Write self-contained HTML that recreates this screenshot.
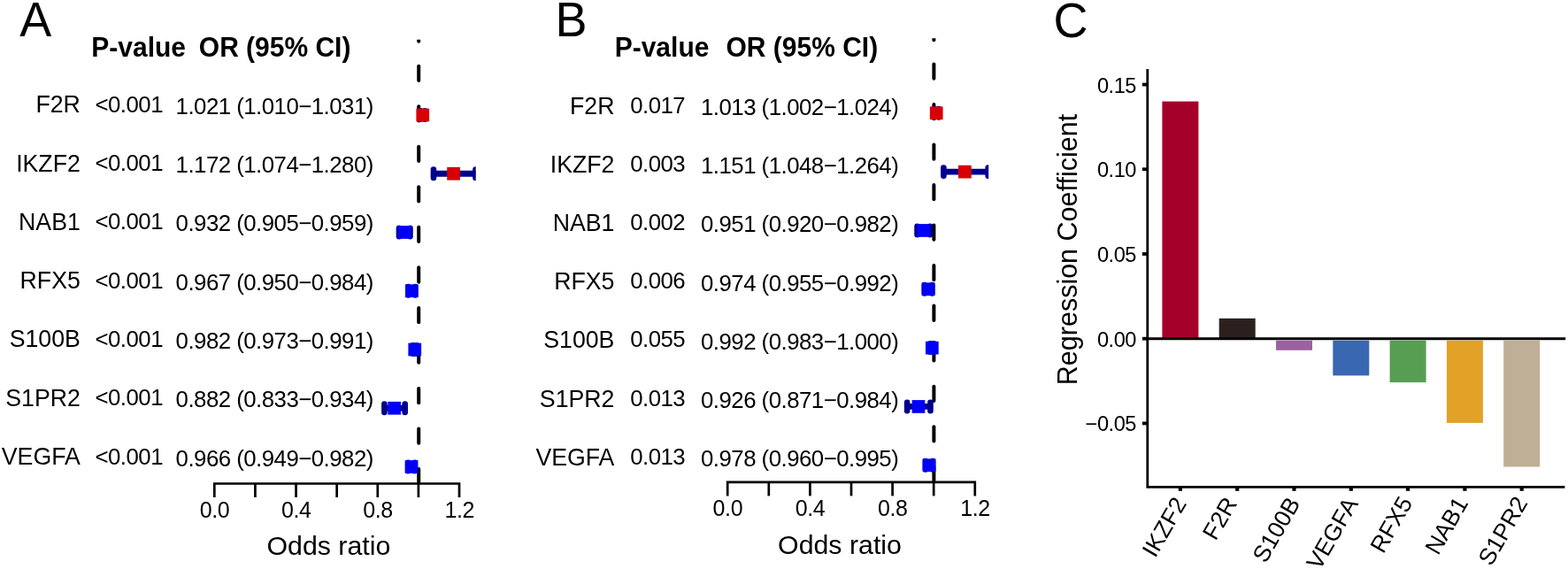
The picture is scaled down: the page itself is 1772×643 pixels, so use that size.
<!DOCTYPE html>
<html><head><meta charset="utf-8"><title>Forest plots and regression coefficients</title>
<style>html,body{margin:0;padding:0;background:#fff;}svg{display:block;}text{font-family:"Liberation Sans", Arial, Helvetica, sans-serif;fill:#000;}</style>
</head><body>
<svg width="1772" height="643" viewBox="0 0 1772 643">
<defs><clipPath id="clipA"><rect x="0" y="44.8" width="1772" height="643"/></clipPath><clipPath id="clipciA"><rect x="0" y="0" width="537.7" height="643"/></clipPath><clipPath id="clipB"><rect x="0" y="43.2" width="1772" height="643"/></clipPath><clipPath id="clipciB"><rect x="0" y="0" width="1117.2" height="643"/></clipPath></defs>
<rect width="1772" height="643" fill="#fff"/>
<text transform="translate(22.20,40.80) scale(1,1.025)" font-size="54" text-anchor="start" font-weight="normal" >A</text>
<text transform="translate(103.30,64.40) scale(1,1.05)" font-size="30" text-anchor="start" font-weight="bold" >P-value</text>
<text transform="translate(224.80,64.40) scale(1,1.05)" font-size="30" text-anchor="start" font-weight="bold" >OR (95% CI)</text>
<text transform="translate(90.80,127.20) scale(1,1.05)" font-size="26.7" text-anchor="end" font-weight="normal" >F2R</text>
<text x="107.50" y="126.80" font-size="25.8" text-anchor="start" font-weight="normal" letter-spacing="-0.52">&lt;0.001</text>
<text x="198.60" y="128.80" font-size="25.8" text-anchor="start" font-weight="normal" letter-spacing="-0.52">1.021 (1.010−1.031)</text>
<text transform="translate(90.80,193.50) scale(1,1.05)" font-size="26.7" text-anchor="end" font-weight="normal" >IKZF2</text>
<text x="107.50" y="193.10" font-size="25.8" text-anchor="start" font-weight="normal" letter-spacing="-0.52">&lt;0.001</text>
<text x="198.60" y="195.10" font-size="25.8" text-anchor="start" font-weight="normal" letter-spacing="-0.52">1.172 (1.074−1.280)</text>
<text transform="translate(90.80,259.80) scale(1,1.05)" font-size="26.7" text-anchor="end" font-weight="normal" >NAB1</text>
<text x="107.50" y="259.40" font-size="25.8" text-anchor="start" font-weight="normal" letter-spacing="-0.52">&lt;0.001</text>
<text x="198.60" y="261.40" font-size="25.8" text-anchor="start" font-weight="normal" letter-spacing="-0.52">0.932 (0.905−0.959)</text>
<text transform="translate(90.80,326.10) scale(1,1.05)" font-size="26.7" text-anchor="end" font-weight="normal" >RFX5</text>
<text x="107.50" y="325.70" font-size="25.8" text-anchor="start" font-weight="normal" letter-spacing="-0.52">&lt;0.001</text>
<text x="198.60" y="327.70" font-size="25.8" text-anchor="start" font-weight="normal" letter-spacing="-0.52">0.967 (0.950−0.984)</text>
<text transform="translate(90.80,392.40) scale(1,1.05)" font-size="26.7" text-anchor="end" font-weight="normal" >S100B</text>
<text x="107.50" y="392.00" font-size="25.8" text-anchor="start" font-weight="normal" letter-spacing="-0.52">&lt;0.001</text>
<text x="198.60" y="394.00" font-size="25.8" text-anchor="start" font-weight="normal" letter-spacing="-0.52">0.982 (0.973−0.991)</text>
<text transform="translate(90.80,458.70) scale(1,1.05)" font-size="26.7" text-anchor="end" font-weight="normal" >S1PR2</text>
<text x="107.50" y="458.30" font-size="25.8" text-anchor="start" font-weight="normal" letter-spacing="-0.52">&lt;0.001</text>
<text x="198.60" y="460.30" font-size="25.8" text-anchor="start" font-weight="normal" letter-spacing="-0.52">0.882 (0.833−0.934)</text>
<text transform="translate(90.80,525.00) scale(1,1.05)" font-size="26.7" text-anchor="end" font-weight="normal" >VEGFA</text>
<text x="107.50" y="524.60" font-size="25.8" text-anchor="start" font-weight="normal" letter-spacing="-0.52">&lt;0.001</text>
<text x="198.60" y="526.60" font-size="25.8" text-anchor="start" font-weight="normal" letter-spacing="-0.52">0.966 (0.949−0.982)</text>
<g clip-path="url(#clipA)">
<line x1="473.20" y1="46.80" x2="473.20" y2="45.47" stroke="#000" stroke-width="4.0" stroke-linecap="round"/>
<line x1="473.20" y1="74.70" x2="473.20" y2="91.00" stroke="#000" stroke-width="4.0" stroke-linecap="round"/>
<line x1="473.20" y1="120.23" x2="473.20" y2="136.53" stroke="#000" stroke-width="4.0" stroke-linecap="round"/>
<line x1="473.20" y1="165.76" x2="473.20" y2="182.06" stroke="#000" stroke-width="4.0" stroke-linecap="round"/>
<line x1="473.20" y1="211.29" x2="473.20" y2="227.59" stroke="#000" stroke-width="4.0" stroke-linecap="round"/>
<line x1="473.20" y1="256.82" x2="473.20" y2="273.12" stroke="#000" stroke-width="4.0" stroke-linecap="round"/>
<line x1="473.20" y1="302.35" x2="473.20" y2="318.65" stroke="#000" stroke-width="4.0" stroke-linecap="round"/>
<line x1="473.20" y1="347.88" x2="473.20" y2="364.18" stroke="#000" stroke-width="4.0" stroke-linecap="round"/>
<line x1="473.20" y1="393.41" x2="473.20" y2="409.71" stroke="#000" stroke-width="4.0" stroke-linecap="round"/>
<line x1="473.20" y1="438.94" x2="473.20" y2="455.24" stroke="#000" stroke-width="4.0" stroke-linecap="round"/>
<line x1="473.20" y1="484.47" x2="473.20" y2="500.77" stroke="#000" stroke-width="4.0" stroke-linecap="round"/>
<line x1="473.20" y1="530.00" x2="473.20" y2="544.50" stroke="#000" stroke-width="4.0" stroke-linecap="round"/>
</g>
<g clip-path="url(#clipciA)">
<line x1="475.21" y1="130.00" x2="480.05" y2="130.00" stroke="#00008B" stroke-width="6.8"/>
<line x1="475.21" y1="125.30" x2="475.21" y2="134.70" stroke="#00008B" stroke-width="6.6" stroke-linecap="round"/>
<line x1="480.05" y1="125.30" x2="480.05" y2="134.70" stroke="#00008B" stroke-width="6.6" stroke-linecap="round"/>
<rect x="470.39" y="122.65" width="14.7" height="14.7" fill="#D90000"/>
<line x1="489.96" y1="196.25" x2="537.47" y2="196.25" stroke="#00008B" stroke-width="6.8"/>
<line x1="489.96" y1="191.55" x2="489.96" y2="200.95" stroke="#00008B" stroke-width="6.6" stroke-linecap="round"/>
<line x1="537.47" y1="191.55" x2="537.47" y2="200.95" stroke="#00008B" stroke-width="6.6" stroke-linecap="round"/>
<rect x="505.21" y="188.90" width="14.7" height="14.7" fill="#D90000"/>
<line x1="450.99" y1="262.50" x2="463.45" y2="262.50" stroke="#00008B" stroke-width="6.8"/>
<line x1="450.99" y1="257.80" x2="450.99" y2="267.20" stroke="#00008B" stroke-width="6.6" stroke-linecap="round"/>
<line x1="463.45" y1="257.80" x2="463.45" y2="267.20" stroke="#00008B" stroke-width="6.6" stroke-linecap="round"/>
<rect x="449.87" y="255.15" width="14.7" height="14.7" fill="#0000F8"/>
<line x1="461.37" y1="328.75" x2="469.21" y2="328.75" stroke="#00008B" stroke-width="6.8"/>
<line x1="461.37" y1="324.05" x2="461.37" y2="333.45" stroke="#00008B" stroke-width="6.6" stroke-linecap="round"/>
<line x1="469.21" y1="324.05" x2="469.21" y2="333.45" stroke="#00008B" stroke-width="6.6" stroke-linecap="round"/>
<rect x="457.94" y="321.40" width="14.7" height="14.7" fill="#0000F8"/>
<line x1="466.67" y1="395.00" x2="470.82" y2="395.00" stroke="#00008B" stroke-width="6.8"/>
<line x1="466.67" y1="390.30" x2="466.67" y2="399.70" stroke="#00008B" stroke-width="6.6" stroke-linecap="round"/>
<line x1="470.82" y1="390.30" x2="470.82" y2="399.70" stroke="#00008B" stroke-width="6.6" stroke-linecap="round"/>
<rect x="461.40" y="387.65" width="14.7" height="14.7" fill="#0000F8"/>
<line x1="434.39" y1="461.25" x2="457.68" y2="461.25" stroke="#00008B" stroke-width="6.8"/>
<line x1="434.39" y1="456.55" x2="434.39" y2="465.95" stroke="#00008B" stroke-width="6.6" stroke-linecap="round"/>
<line x1="457.68" y1="456.55" x2="457.68" y2="465.95" stroke="#00008B" stroke-width="6.6" stroke-linecap="round"/>
<rect x="438.34" y="453.90" width="14.7" height="14.7" fill="#0000F8"/>
<line x1="461.14" y1="527.50" x2="468.75" y2="527.50" stroke="#00008B" stroke-width="6.8"/>
<line x1="461.14" y1="522.80" x2="461.14" y2="532.20" stroke="#00008B" stroke-width="6.6" stroke-linecap="round"/>
<line x1="468.75" y1="522.80" x2="468.75" y2="532.20" stroke="#00008B" stroke-width="6.6" stroke-linecap="round"/>
<rect x="457.71" y="520.15" width="14.7" height="14.7" fill="#0000F8"/>
</g>
<path d="M242.30,562.00 L242.30,546.50 L519.02,546.50 L519.02,562.00" fill="none" stroke="#000" stroke-width="2.7" stroke-linejoin="miter"/>
<line x1="288.42" y1="546.50" x2="288.42" y2="562.00" stroke="#000" stroke-width="2.7"/>
<line x1="334.54" y1="546.50" x2="334.54" y2="562.00" stroke="#000" stroke-width="2.7"/>
<line x1="380.66" y1="546.50" x2="380.66" y2="562.00" stroke="#000" stroke-width="2.7"/>
<line x1="426.78" y1="546.50" x2="426.78" y2="562.00" stroke="#000" stroke-width="2.7"/>
<line x1="472.90" y1="546.50" x2="472.90" y2="562.00" stroke="#000" stroke-width="2.7"/>
<text x="242.30" y="584.60" font-size="25.0" text-anchor="middle" font-weight="normal" letter-spacing="-0.4" dx="0.2">0.0</text>
<text x="334.54" y="584.60" font-size="25.0" text-anchor="middle" font-weight="normal" letter-spacing="-0.4" dx="0.2">0.4</text>
<text x="426.78" y="584.60" font-size="25.0" text-anchor="middle" font-weight="normal" letter-spacing="-0.4" dx="0.2">0.8</text>
<text x="519.02" y="584.60" font-size="25.0" text-anchor="middle" font-weight="normal" letter-spacing="-0.4" dx="0.2">1.2</text>
<text x="371.40" y="626.60" font-size="30.3" text-anchor="middle" font-weight="normal" >Odds ratio</text>
<text transform="translate(627.50,41.00) scale(1,1.025)" font-size="54" text-anchor="start" font-weight="normal" >B</text>
<text transform="translate(694.70,64.40) scale(1,1.05)" font-size="30" text-anchor="start" font-weight="bold" >P-value</text>
<text transform="translate(820.50,64.40) scale(1,1.05)" font-size="30" text-anchor="start" font-weight="bold" >OR (95% CI)</text>
<text transform="translate(694.40,128.60) scale(1,1.05)" font-size="26.7" text-anchor="end" font-weight="normal" >F2R</text>
<text x="712.20" y="127.60" font-size="25.8" text-anchor="start" font-weight="normal" letter-spacing="-0.52">0.017</text>
<text x="792.00" y="129.90" font-size="25.8" text-anchor="start" font-weight="normal" letter-spacing="-0.52">1.013 (1.002−1.024)</text>
<text transform="translate(694.40,194.80) scale(1,1.05)" font-size="26.7" text-anchor="end" font-weight="normal" >IKZF2</text>
<text x="712.20" y="193.80" font-size="25.8" text-anchor="start" font-weight="normal" letter-spacing="-0.52">0.003</text>
<text x="792.00" y="196.10" font-size="25.8" text-anchor="start" font-weight="normal" letter-spacing="-0.52">1.151 (1.048−1.264)</text>
<text transform="translate(694.40,261.00) scale(1,1.05)" font-size="26.7" text-anchor="end" font-weight="normal" >NAB1</text>
<text x="712.20" y="260.00" font-size="25.8" text-anchor="start" font-weight="normal" letter-spacing="-0.52">0.002</text>
<text x="792.00" y="262.30" font-size="25.8" text-anchor="start" font-weight="normal" letter-spacing="-0.52">0.951 (0.920−0.982)</text>
<text transform="translate(694.40,327.20) scale(1,1.05)" font-size="26.7" text-anchor="end" font-weight="normal" >RFX5</text>
<text x="712.20" y="326.20" font-size="25.8" text-anchor="start" font-weight="normal" letter-spacing="-0.52">0.006</text>
<text x="792.00" y="328.50" font-size="25.8" text-anchor="start" font-weight="normal" letter-spacing="-0.52">0.974 (0.955−0.992)</text>
<text transform="translate(694.40,393.40) scale(1,1.05)" font-size="26.7" text-anchor="end" font-weight="normal" >S100B</text>
<text x="712.20" y="392.40" font-size="25.8" text-anchor="start" font-weight="normal" letter-spacing="-0.52">0.055</text>
<text x="792.00" y="394.70" font-size="25.8" text-anchor="start" font-weight="normal" letter-spacing="-0.52">0.992 (0.983−1.000)</text>
<text transform="translate(694.40,459.60) scale(1,1.05)" font-size="26.7" text-anchor="end" font-weight="normal" >S1PR2</text>
<text x="712.20" y="458.60" font-size="25.8" text-anchor="start" font-weight="normal" letter-spacing="-0.52">0.013</text>
<text x="792.00" y="460.90" font-size="25.8" text-anchor="start" font-weight="normal" letter-spacing="-0.52">0.926 (0.871−0.984)</text>
<text transform="translate(694.40,525.80) scale(1,1.05)" font-size="26.7" text-anchor="end" font-weight="normal" >VEGFA</text>
<text x="712.20" y="524.80" font-size="25.8" text-anchor="start" font-weight="normal" letter-spacing="-0.52">0.013</text>
<text x="792.00" y="527.10" font-size="25.8" text-anchor="start" font-weight="normal" letter-spacing="-0.52">0.978 (0.960−0.995)</text>
<g clip-path="url(#clipB)">
<line x1="1055.40" y1="45.20" x2="1055.40" y2="43.17" stroke="#000" stroke-width="4.0" stroke-linecap="round"/>
<line x1="1055.40" y1="72.40" x2="1055.40" y2="88.70" stroke="#000" stroke-width="4.0" stroke-linecap="round"/>
<line x1="1055.40" y1="117.93" x2="1055.40" y2="134.23" stroke="#000" stroke-width="4.0" stroke-linecap="round"/>
<line x1="1055.40" y1="163.46" x2="1055.40" y2="179.76" stroke="#000" stroke-width="4.0" stroke-linecap="round"/>
<line x1="1055.40" y1="208.99" x2="1055.40" y2="225.29" stroke="#000" stroke-width="4.0" stroke-linecap="round"/>
<line x1="1055.40" y1="254.52" x2="1055.40" y2="270.82" stroke="#000" stroke-width="4.0" stroke-linecap="round"/>
<line x1="1055.40" y1="300.05" x2="1055.40" y2="316.35" stroke="#000" stroke-width="4.0" stroke-linecap="round"/>
<line x1="1055.40" y1="345.58" x2="1055.40" y2="361.88" stroke="#000" stroke-width="4.0" stroke-linecap="round"/>
<line x1="1055.40" y1="391.11" x2="1055.40" y2="407.41" stroke="#000" stroke-width="4.0" stroke-linecap="round"/>
<line x1="1055.40" y1="436.64" x2="1055.40" y2="452.94" stroke="#000" stroke-width="4.0" stroke-linecap="round"/>
<line x1="1055.40" y1="482.17" x2="1055.40" y2="498.47" stroke="#000" stroke-width="4.0" stroke-linecap="round"/>
<line x1="1055.40" y1="527.70" x2="1055.40" y2="542.90" stroke="#000" stroke-width="4.0" stroke-linecap="round"/>
</g>
<g clip-path="url(#clipciB)">
<line x1="1055.67" y1="127.80" x2="1060.79" y2="127.80" stroke="#00008B" stroke-width="6.8"/>
<line x1="1055.67" y1="123.10" x2="1055.67" y2="132.50" stroke="#00008B" stroke-width="6.6" stroke-linecap="round"/>
<line x1="1060.79" y1="123.10" x2="1060.79" y2="132.50" stroke="#00008B" stroke-width="6.6" stroke-linecap="round"/>
<rect x="1050.88" y="120.45" width="14.7" height="14.7" fill="#D90000"/>
<line x1="1066.38" y1="194.13" x2="1116.71" y2="194.13" stroke="#00008B" stroke-width="6.8"/>
<line x1="1066.38" y1="189.43" x2="1066.38" y2="198.83" stroke="#00008B" stroke-width="6.6" stroke-linecap="round"/>
<line x1="1116.71" y1="189.43" x2="1116.71" y2="198.83" stroke="#00008B" stroke-width="6.6" stroke-linecap="round"/>
<rect x="1083.03" y="186.78" width="14.7" height="14.7" fill="#D90000"/>
<line x1="1036.56" y1="260.46" x2="1051.01" y2="260.46" stroke="#00008B" stroke-width="6.8"/>
<line x1="1036.56" y1="255.76" x2="1036.56" y2="265.16" stroke="#00008B" stroke-width="6.6" stroke-linecap="round"/>
<line x1="1051.01" y1="255.76" x2="1051.01" y2="265.16" stroke="#00008B" stroke-width="6.6" stroke-linecap="round"/>
<rect x="1036.43" y="253.11" width="14.7" height="14.7" fill="#0000F8"/>
<line x1="1044.72" y1="326.79" x2="1053.34" y2="326.79" stroke="#00008B" stroke-width="6.8"/>
<line x1="1044.72" y1="322.09" x2="1044.72" y2="331.49" stroke="#00008B" stroke-width="6.6" stroke-linecap="round"/>
<line x1="1053.34" y1="322.09" x2="1053.34" y2="331.49" stroke="#00008B" stroke-width="6.6" stroke-linecap="round"/>
<rect x="1041.79" y="319.44" width="14.7" height="14.7" fill="#0000F8"/>
<line x1="1051.24" y1="393.12" x2="1055.20" y2="393.12" stroke="#00008B" stroke-width="6.8"/>
<line x1="1051.24" y1="388.42" x2="1051.24" y2="397.82" stroke="#00008B" stroke-width="6.6" stroke-linecap="round"/>
<line x1="1055.20" y1="388.42" x2="1055.20" y2="397.82" stroke="#00008B" stroke-width="6.6" stroke-linecap="round"/>
<rect x="1045.99" y="385.77" width="14.7" height="14.7" fill="#0000F8"/>
<line x1="1025.14" y1="459.45" x2="1051.47" y2="459.45" stroke="#00008B" stroke-width="6.8"/>
<line x1="1025.14" y1="454.75" x2="1025.14" y2="464.15" stroke="#00008B" stroke-width="6.6" stroke-linecap="round"/>
<line x1="1051.47" y1="454.75" x2="1051.47" y2="464.15" stroke="#00008B" stroke-width="6.6" stroke-linecap="round"/>
<rect x="1030.61" y="452.10" width="14.7" height="14.7" fill="#0000F8"/>
<line x1="1045.88" y1="525.78" x2="1054.04" y2="525.78" stroke="#00008B" stroke-width="6.8"/>
<line x1="1045.88" y1="521.08" x2="1045.88" y2="530.48" stroke="#00008B" stroke-width="6.6" stroke-linecap="round"/>
<line x1="1054.04" y1="521.08" x2="1054.04" y2="530.48" stroke="#00008B" stroke-width="6.6" stroke-linecap="round"/>
<rect x="1042.72" y="518.43" width="14.7" height="14.7" fill="#0000F8"/>
</g>
<path d="M822.20,560.40 L822.20,544.90 L1101.80,544.90 L1101.80,560.40" fill="none" stroke="#000" stroke-width="2.7" stroke-linejoin="miter"/>
<line x1="868.80" y1="544.90" x2="868.80" y2="560.40" stroke="#000" stroke-width="2.7"/>
<line x1="915.40" y1="544.90" x2="915.40" y2="560.40" stroke="#000" stroke-width="2.7"/>
<line x1="962.00" y1="544.90" x2="962.00" y2="560.40" stroke="#000" stroke-width="2.7"/>
<line x1="1008.60" y1="544.90" x2="1008.60" y2="560.40" stroke="#000" stroke-width="2.7"/>
<line x1="1055.20" y1="544.90" x2="1055.20" y2="560.40" stroke="#000" stroke-width="2.7"/>
<text x="822.20" y="582.60" font-size="25.0" text-anchor="middle" font-weight="normal" letter-spacing="-0.4" dx="0.2">0.0</text>
<text x="915.40" y="582.60" font-size="25.0" text-anchor="middle" font-weight="normal" letter-spacing="-0.4" dx="0.2">0.4</text>
<text x="1008.60" y="582.60" font-size="25.0" text-anchor="middle" font-weight="normal" letter-spacing="-0.4" dx="0.2">0.8</text>
<text x="1101.80" y="582.60" font-size="25.0" text-anchor="middle" font-weight="normal" letter-spacing="-0.4" dx="0.2">1.2</text>
<text x="949.00" y="626.00" font-size="30.3" text-anchor="middle" font-weight="normal" >Odds ratio</text>
<text transform="translate(1190.60,41.60) scale(1,1.025)" font-size="54" text-anchor="start" font-weight="normal" >C</text>
<rect x="1313.40" y="114.60" width="41.0" height="268.10" fill="#A5002A"/>
<rect x="1377.70" y="359.80" width="41.0" height="22.90" fill="#2B201E"/>
<rect x="1442.00" y="384.80" width="41.0" height="11.00" fill="#9C61A0"/>
<rect x="1506.30" y="384.80" width="41.0" height="39.60" fill="#3A67B1"/>
<rect x="1570.60" y="384.80" width="41.0" height="47.30" fill="#589E52"/>
<rect x="1634.90" y="384.80" width="41.0" height="93.10" fill="#E2A228"/>
<rect x="1699.20" y="384.80" width="41.0" height="142.70" fill="#BFAF96"/>
<path d="M1296.80,78 L1296.80,550.40 L1768.4,550.40" fill="none" stroke="#000" stroke-width="2.8" stroke-linejoin="miter"/>
<line x1="1296.80" y1="382.70" x2="1769.20" y2="382.70" stroke="#000" stroke-width="3.0"/>
<line x1="1290.90" y1="95.54" x2="1296.80" y2="95.54" stroke="#000" stroke-width="3.8"/>
<text x="1284.00" y="104.54" font-size="23.6" text-anchor="end" font-weight="normal" letter-spacing="-0.45">0.15</text>
<line x1="1290.90" y1="191.26" x2="1296.80" y2="191.26" stroke="#000" stroke-width="3.8"/>
<text x="1284.00" y="200.26" font-size="23.6" text-anchor="end" font-weight="normal" letter-spacing="-0.45">0.10</text>
<line x1="1290.90" y1="286.98" x2="1296.80" y2="286.98" stroke="#000" stroke-width="3.8"/>
<text x="1284.00" y="295.98" font-size="23.6" text-anchor="end" font-weight="normal" letter-spacing="-0.45">0.05</text>
<line x1="1290.90" y1="382.70" x2="1296.80" y2="382.70" stroke="#000" stroke-width="3.8"/>
<text x="1284.00" y="391.70" font-size="23.6" text-anchor="end" font-weight="normal" letter-spacing="-0.45">0.00</text>
<line x1="1290.90" y1="478.42" x2="1296.80" y2="478.42" stroke="#000" stroke-width="3.8"/>
<text x="1284.00" y="487.42" font-size="23.6" text-anchor="end" font-weight="normal" letter-spacing="-0.45">−0.05</text>
<line x1="1333.90" y1="550.40" x2="1333.90" y2="554.80" stroke="#000" stroke-width="4.2"/>
<text x="0.00" y="0.00" font-size="26.5" text-anchor="end" font-weight="normal" transform="translate(1341.70,568.80) rotate(-60)">IKZF2</text>
<line x1="1398.20" y1="550.40" x2="1398.20" y2="554.80" stroke="#000" stroke-width="4.2"/>
<text x="0.00" y="0.00" font-size="26.5" text-anchor="end" font-weight="normal" transform="translate(1398.90,568.60) rotate(-60)">F2R</text>
<line x1="1462.50" y1="550.40" x2="1462.50" y2="554.80" stroke="#000" stroke-width="4.2"/>
<text x="0.00" y="0.00" font-size="26.5" text-anchor="end" font-weight="normal" transform="translate(1470.00,568.60) rotate(-60)">S100B</text>
<line x1="1526.80" y1="550.40" x2="1526.80" y2="554.80" stroke="#000" stroke-width="4.2"/>
<text x="0.00" y="0.00" font-size="26.5" text-anchor="end" font-weight="normal" transform="translate(1535.50,569.00) rotate(-60)">VEGFA</text>
<line x1="1591.10" y1="550.40" x2="1591.10" y2="554.80" stroke="#000" stroke-width="4.2"/>
<text x="0.00" y="0.00" font-size="26.5" text-anchor="end" font-weight="normal" transform="translate(1597.00,568.00) rotate(-60)">RFX5</text>
<line x1="1655.40" y1="550.40" x2="1655.40" y2="554.80" stroke="#000" stroke-width="4.2"/>
<text x="0.00" y="0.00" font-size="26.5" text-anchor="end" font-weight="normal" transform="translate(1659.80,568.60) rotate(-60)">NAB1</text>
<line x1="1719.70" y1="550.40" x2="1719.70" y2="554.80" stroke="#000" stroke-width="4.2"/>
<text x="0.00" y="0.00" font-size="26.5" text-anchor="end" font-weight="normal" transform="translate(1727.20,568.00) rotate(-60)">S1PR2</text>
<text x="0.00" y="0.00" font-size="30.5" text-anchor="middle" font-weight="normal" transform="translate(1217.1,282.05) rotate(-90)">Regression Coefficient</text>
</svg>
</body></html>
